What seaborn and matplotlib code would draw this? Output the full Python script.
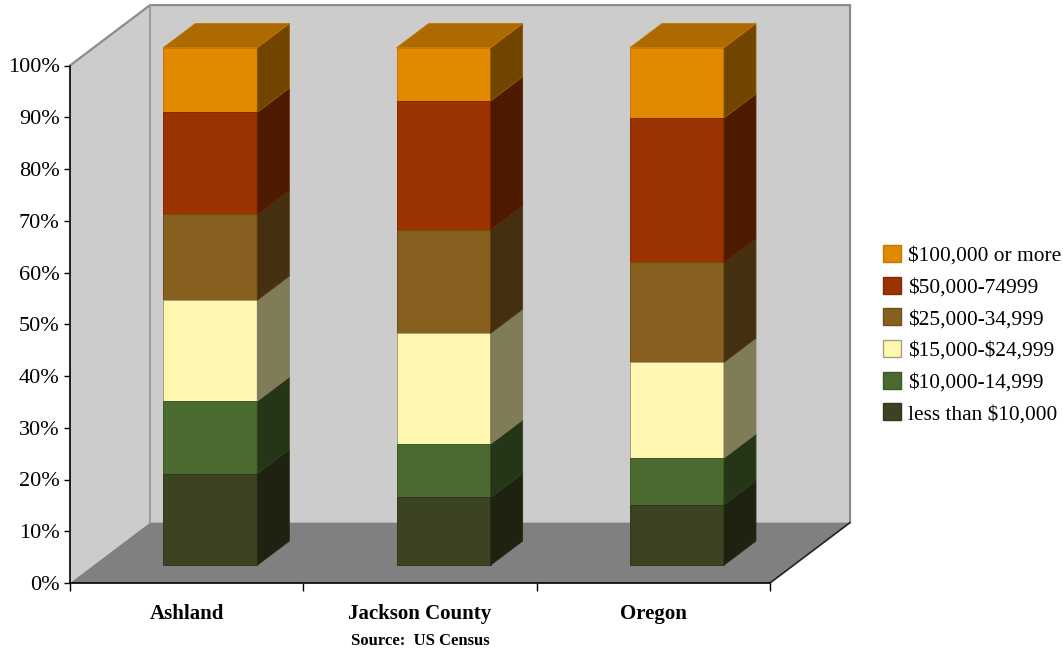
import numpy as np
import matplotlib
matplotlib.use("Agg")
import matplotlib.pyplot as plt
import matplotlib.transforms as mtransforms
from matplotlib.colors import to_rgb
from matplotlib.patches import Polygon, Patch
from matplotlib.ticker import FixedLocator, FuncFormatter, NullFormatter
import seaborn as sns

# --- household income shares (%)
places = ['Ashland', 'Jackson County', 'Oregon']
brackets = ['less than $10,000', '$10,000-14,999', '$15,000-$24,999',
            '$25,000-34,999', '$50,000-74999', '$100,000 or more']
under_10k = [17.7, 13.1, 11.7]
k10_15 = [14.0, 10.3, 9.0]
k15_25 = [19.5, 21.4, 18.5]
k25_35 = [16.6, 20.0, 19.3]
k50_75 = [19.7, 24.9, 27.9]
over_100k = [12.5, 10.3, 13.6]
y_ticks = [0, 10, 20, 30, 40, 50, 60, 70, 80, 90, 100]

front_cols = ['#3C4322', '#4A6A30', '#FFF7B0', '#875F1F', '#9A3300', '#E18A00']
edge_cols = ['#32381C', '#3E5828', '#A5A07C', '#714F1A', '#822B00', '#C47800']

shares = np.array([under_10k, k10_15, k15_25, k25_35, k50_75, over_100k])
cum = shares.cumsum(axis=0)

# --- fake 3d geometry (in data units of the front plane)
depth_x, depth_y = 0.343, 11.67    # full depth of the box
front_frac, bar_frac = 0.295, 0.40  # where the bars sit inside the box
bar_w = 0.403

sns.set_style("white")
plt.rcParams['font.family'] = ['Liberation Serif', 'DejaVu Serif']
plt.rcParams['text.parse_math'] = False
plt.rcParams['text.color'] = 'black'
plt.rcParams['xtick.color'] = 'black'
plt.rcParams['ytick.color'] = 'black'

fig = plt.figure(figsize=(10.63, 6.52), dpi=100)
ax = fig.add_axes([70/1063, 69/652, 700/1063, 517.5/652])

bars = [None]*6
for i in range(5, -1, -1):
    sns.barplot(x=places, y=cum[i], color=front_cols[i], saturation=1,
                width=bar_w, edgecolor=edge_cols[i], linewidth=0.7,
                errorbar=None, ax=ax, zorder=3)
    bars[i] = ax.containers[-1]

ax.set_xlim(-0.5, 2.5)
ax.set_ylim(0, 100)
x0, x1 = ax.get_xlim()

# --- walls and floor
wall = '#CCCCCC'
ax.add_patch(Polygon([(x0 + depth_x, depth_y), (x1 + depth_x, depth_y),
                      (x1 + depth_x, 100 + depth_y), (x0 + depth_x, 100 + depth_y)],
                     closed=True, facecolor=wall, edgecolor='none',
                     zorder=0.5, clip_on=False))
ax.add_patch(Polygon([(x0, 0), (x0 + depth_x, depth_y),
                      (x0 + depth_x, 100 + depth_y), (x0, 100)],
                     closed=True, facecolor=wall, edgecolor='none',
                     zorder=0.5, clip_on=False))
ax.add_patch(Polygon([(x0, 0), (x1, 0), (x1 + depth_x, depth_y), (x0 + depth_x, depth_y)],
                     closed=True, facecolor='#808080', edgecolor='none',
                     zorder=0.6, clip_on=False))
ax.plot([x0, x0 + depth_x, x1 + depth_x, x1 + depth_x],
        [100, 100 + depth_y, 100 + depth_y, depth_y],
        color='#8C8C8C', lw=1.6, zorder=0.7, clip_on=False, solid_joinstyle='miter')
ax.plot([x0 + depth_x, x0 + depth_x], [depth_y, 100 + depth_y],
        color='#9A9A9A', lw=1.4, zorder=0.7, clip_on=False)
ax.plot([x1, x1 + depth_x], [0, depth_y], color='#222222', lw=1.2,
        zorder=0.8, clip_on=False)

# --- push bar fronts into the box, then add side and top faces
fx, fy = front_frac*depth_x, front_frac*depth_y
bx, by = bar_frac*depth_x, bar_frac*depth_y
shift = mtransforms.Affine2D().translate(fx, fy) + ax.transData
for i in range(6):
    side = tuple(c*0.5 for c in to_rgb(front_cols[i]))
    top_c = tuple(c*0.77 for c in to_rgb(front_cols[i]))
    for j, p in enumerate(bars[i].patches):
        p.set_transform(shift)
        p.set_clip_on(False)
        left = p.get_x() + fx
        right = left + p.get_width()
        lo = (cum[i-1][j] if i > 0 else 0) + fy
        hi = cum[i][j] + fy
        ax.add_patch(Polygon([(right, lo), (right + bx, lo + by),
                              (right + bx, hi + by), (right, hi)],
                             closed=True, facecolor=side,
                             edgecolor=tuple(c*0.75 for c in to_rgb(edge_cols[i])),
                             lw=0.6, zorder=3, clip_on=False))
        if i == 5:
            ax.add_patch(Polygon([(left, hi), (left + bx, hi + by),
                                  (right + bx, hi + by), (right, hi)],
                                 closed=True, facecolor=top_c, edgecolor=edge_cols[i],
                                 lw=0.6, zorder=3, clip_on=False))

# --- axes decoration
for s in ['top', 'right']:
    ax.spines[s].set_visible(False)
for s in ['left', 'bottom']:
    ax.spines[s].set_color('black')
    ax.spines[s].set_linewidth(1.2)
    ax.spines[s].set_zorder(4)

ax.yaxis.set_major_locator(FixedLocator(y_ticks))
ax.yaxis.set_major_formatter(FuncFormatter(lambda v, pos: '%d%%' % v))
ax.tick_params(axis='y', which='major', direction='out', length=4.5, width=1,
               color='black', labelsize=16, pad=3, left=True)

ax.xaxis.set_major_locator(FixedLocator([-0.5, 0.5, 1.5, 2.5]))
ax.xaxis.set_major_formatter(NullFormatter())
ax.xaxis.set_minor_locator(FixedLocator([0, 1, 2]))
ax.set_xticklabels(places, minor=True, fontweight='bold', fontsize=15)
ax.tick_params(axis='x', which='major', direction='out', length=5.5, width=1,
               color='black', bottom=True)
ax.tick_params(axis='x', which='minor', length=0, pad=15)
ax.set_xlabel('')
ax.set_ylabel('')

fig.text(420/1063, 1 - 641/652, 'Source:  US Census', ha='center', va='center',
         fontsize=12, fontweight='bold')

handles = [Patch(facecolor=front_cols[i], edgecolor=edge_cols[i]) for i in range(5, -1, -1)]
labels = [brackets[i] for i in range(5, -1, -1)]
fig.legend(handles, labels, loc='upper left', bbox_to_anchor=(883/1063, 1 - 245/652),
           frameon=False, fontsize=15.4, handlelength=0.85, handleheight=0.85,
           handletextpad=0.3, labelspacing=0.5, borderpad=0, borderaxespad=0)

fig.savefig('out.png', dpi=100)
